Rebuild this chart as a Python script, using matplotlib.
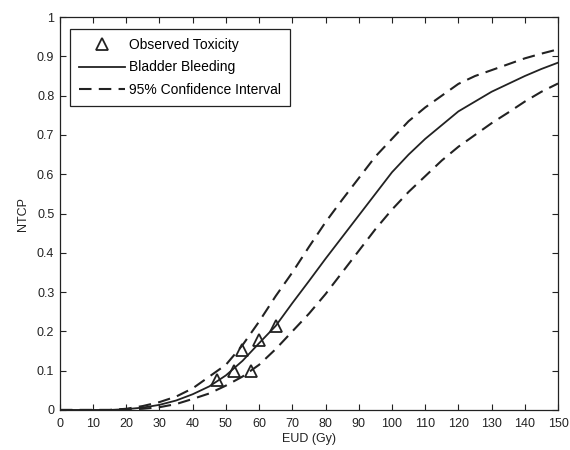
import matplotlib
matplotlib.use("Agg")
from matplotlib import pyplot as plt

plt.rcParams['font.family'] = ['Liberation Sans', 'DejaVu Sans']

# dose grid (Gy) and curves
eud = [0, 5, 10, 15, 20, 25, 30, 35, 40, 45, 50, 55, 60, 65, 70, 75,
       80, 85, 90, 95, 100, 105, 110, 115, 120, 125, 130, 135, 140, 145, 150]
ntcp_fit = [0, 0, 0, 0, 0.002, 0.006, 0.013, 0.024, 0.04, 0.06, 0.088, 0.125, 0.17, 0.214, 0.272, 0.328,
            0.385, 0.44, 0.495, 0.55, 0.605, 0.65, 0.69, 0.725, 0.76, 0.785, 0.81, 0.83, 0.85, 0.868, 0.884]
ntcp_upper = [0, 0, 0, 0, 0.003, 0.01, 0.02, 0.034, 0.055, 0.085, 0.115, 0.165, 0.225, 0.29, 0.35, 0.415,
              0.478, 0.535, 0.59, 0.645, 0.69, 0.735, 0.77, 0.8, 0.83, 0.85, 0.865, 0.88, 0.895, 0.907, 0.918]
ntcp_lower = [0, 0, 0, 0, 0.001, 0.003, 0.007, 0.015, 0.028, 0.042, 0.062, 0.085, 0.115, 0.155, 0.2, 0.245,
              0.295, 0.35, 0.405, 0.46, 0.51, 0.555, 0.595, 0.635, 0.67, 0.70, 0.73, 0.757, 0.785, 0.81, 0.831]

# observed toxicity points
obs_eud = [47.2, 52.5, 57.5, 54.8, 60.0, 65.0]
obs_ntcp = [0.076, 0.10, 0.10, 0.152, 0.178, 0.214]

xticks = list(range(0, 151, 10))
yticks = [0, 0.1, 0.2, 0.3, 0.4, 0.5, 0.6, 0.7, 0.8, 0.9, 1]
ytick_labels = ["0", "0.1", "0.2", "0.3", "0.4", "0.5", "0.6", "0.7", "0.8", "0.9", "1"]

fig = plt.figure(figsize=(5.7, 4.5), dpi=100)
ax = fig.add_axes([0.105, 0.089, 0.874, 0.873])

ax.plot(obs_eud, obs_ntcp, linestyle="none", marker="^", markersize=8,
        markerfacecolor="none", markeredgecolor="#222222", markeredgewidth=1.3,
        label="Observed Toxicity")
ax.plot(eud, ntcp_fit, color="#222222", linewidth=1.3, label="Bladder Bleeding")
ax.plot(eud, ntcp_upper, color="#222222", linewidth=1.5, dashes=(6, 3.5),
        label="95% Confidence Interval")
ax.plot(eud, ntcp_lower, color="#222222", linewidth=1.5, dashes=(6, 3.5))

ax.set_xlim(0, 150)
ax.set_ylim(0, 1)
ax.set_xticks(xticks)
ax.set_yticks(yticks)
ax.set_yticklabels(ytick_labels)
ax.tick_params(direction="in", top=True, right=True, length=4, width=0.8,
               labelsize=9, colors="#222222")
ax.tick_params(axis="x", pad=6)
ax.tick_params(axis="y", pad=4)
for s in ax.spines.values():
    s.set_linewidth(0.9)
    s.set_color("#222222")

ax.set_xlabel("EUD (Gy)", fontsize=9, color="#222222", labelpad=2)
ax.set_ylabel("NTCP", fontsize=9, color="#222222", labelpad=6)

leg = ax.legend(loc="upper left", bbox_to_anchor=(0.012, 0.98), fontsize=10,
                fancybox=False, edgecolor="#222222", framealpha=1,
                handlelength=3.3, numpoints=1, borderpad=0.65, labelspacing=0.6,
                handletextpad=0.3, borderaxespad=0.3)
leg.get_frame().set_linewidth(0.9)

fig.savefig("out.png", dpi=100)
